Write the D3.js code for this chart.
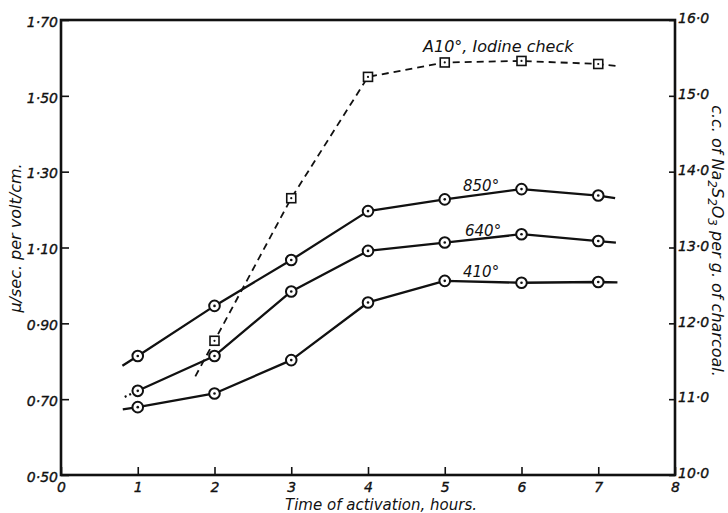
<!DOCTYPE html>
<html>
<head>
<meta charset="utf-8">
<script src="https://cdn.jsdelivr.net/npm/d3@7/dist/d3.min.js"></script>
<style>
  html, body { margin: 0; padding: 0; background: #fff; }
  text { font-family: "DejaVu Sans", sans-serif; font-style: italic; fill: #111; }
</style>
</head>
<body>
<script>
'use strict';

// activation time, hours
const hours = [1, 2, 3, 4, 5, 6, 7];
// mobility, mu/sec. per volt/cm, for each activation temperature
const mob850 = [0.814, 0.946, 1.067, 1.196, 1.227, 1.254, 1.237];
const mob640 = [0.722, 0.814, 0.984, 1.091, 1.113, 1.135, 1.117];
const mob410 = [0.679, 0.715, 0.803, 0.955, 1.012, 1.007, 1.009];
// iodine check at 410 deg, c.c. of Na2S2O3 per g. of charcoal
const iodineHours = [2, 3, 4, 5, 6, 7];
const iodine410 = [11.77, 13.65, 15.25, 15.44, 15.46, 15.42];

// short line ends drawn past the first and last points: [hours, value]
const lead850 = [[0.80, 0.788], [7.22, 1.230]];
const lead640 = [[0.83, 0.706], [7.23, 1.113]];
const lead410 = [[0.805, 0.673], [7.25, 1.008]];
const leadIodine = [[1.75, 11.30], [7.26, 15.39]];

const xTicks = [0, 1, 2, 3, 4, 5, 6, 7, 8];
const leftTicks = [0.5, 0.7, 0.9, 1.1, 1.3, 1.5, 1.7];
const rightTicks = [10, 11, 12, 13, 14, 15, 16];

(function() {

  let svgContainer = "";
  const measurements = {
    width: 728,
    height: 513,
    left: 61,
    right: 675,
    top: 20,
    bottom: 475
  };

  window.onload = function() {
    svgContainer = d3.select('body')
      .append('svg')
      .attr('width', measurements.width)
      .attr('height', measurements.height);

    let map = drawAxes();
    plotData(map);
    makeLabels();
  };

  // scales, frame and the three axes
  function drawAxes() {
    let xScale = d3.scaleLinear()
      .domain([0, 8])
      .range([measurements.left, measurements.right]);
    let yScale = d3.scaleLinear()
      .domain([0.5, 1.7])
      .range([measurements.bottom, measurements.top]);
    let rScale = d3.scaleLinear()
      .domain([10, 16])
      .range([measurements.bottom, measurements.top]);

    const dot = (s) => s.replace('.', '·');

    let xAxis = d3.axisBottom(xScale)
      .tickValues(xTicks)
      .tickSize(-8)
      .tickPadding(7)
      .tickFormat((d) => d3.format('d')(d));
    let gx = svgContainer.append('g')
      .attr('transform', 'translate(0,' + measurements.bottom + ')')
      .call(xAxis);

    let yAxis = d3.axisLeft(yScale)
      .tickValues(leftTicks)
      .tickSize(-8)
      .tickPadding(3)
      .tickFormat((d) => dot(d3.format('.2f')(d)));
    let gy = svgContainer.append('g')
      .attr('transform', 'translate(' + measurements.left + ',0)')
      .call(yAxis);

    let rAxis = d3.axisRight(rScale)
      .tickValues(rightTicks)
      .tickSize(-6)
      .tickPadding(3)
      .tickFormat((d) => dot(d3.format('.1f')(d)));
    let gr = svgContainer.append('g')
      .attr('transform', 'translate(' + measurements.right + ',0)')
      .call(rAxis);

    [gx, gy, gr].forEach((g) => {
      g.select('.domain').remove();
      g.selectAll('line').attr('stroke', '#111').attr('stroke-width', 1.6);
      g.selectAll('text')
        .attr('fill', '#111')
        .attr('stroke', '#111')
        .attr('stroke-width', 0.35)
        .style('font-family', '"DejaVu Sans", sans-serif')
        .style('font-style', 'italic')
        .style('font-size', '14px');
    });
    gy.selectAll('text').attr('dy', '0.45em');
    gr.selectAll('text').attr('dy', '0.2em');

    // plot frame
    svgContainer.append('rect')
      .attr('x', measurements.left)
      .attr('y', measurements.top)
      .attr('width', measurements.right - measurements.left)
      .attr('height', measurements.bottom - measurements.top)
      .attr('fill', 'none')
      .attr('stroke', '#111')
      .attr('stroke-width', 2.6);

    return { x: xScale, y: yScale, r: rScale };
  }

  function plotData(map) {
    let line = d3.line()
      .x((d) => map.x(d[0]))
      .y((d) => d[2] === 'r' ? map.r(d[1]) : map.y(d[1]));

    const series = [
      { values: mob850, lead: lead850, startDash: null },
      { values: mob640, lead: lead640, startDash: '2,3' },
      { values: mob410, lead: lead410, startDash: null }
    ];

    series.forEach((s) => {
      let pts = hours.map((h, i) => [h, s.values[i]]);
      let full = [s.lead[0]].concat(pts, [s.lead[1]]);
      if (s.startDash) {
        svgContainer.append('path')
          .attr('d', line([s.lead[0], pts[0]]))
          .attr('fill', 'none')
          .attr('stroke', '#111')
          .attr('stroke-width', 2.2)
          .attr('stroke-dasharray', s.startDash);
        full = full.slice(1);
      }
      svgContainer.append('path')
        .attr('d', line(full))
        .attr('fill', 'none')
        .attr('stroke', '#111')
        .attr('stroke-width', 2.3)
        .attr('stroke-linejoin', 'round');

      let g = svgContainer.append('g');
      g.selectAll('circle.mark')
        .data(pts)
        .enter()
        .append('circle')
        .attr('cx', (d) => map.x(d[0]))
        .attr('cy', (d) => map.y(d[1]))
        .attr('r', 5.3)
        .attr('fill', '#fff')
        .attr('stroke', '#111')
        .attr('stroke-width', 2);
      g.selectAll('circle.centre')
        .data(pts)
        .enter()
        .append('circle')
        .attr('cx', (d) => map.x(d[0]))
        .attr('cy', (d) => map.y(d[1]))
        .attr('r', 1.3)
        .attr('fill', '#111');
    });

    // iodine check, dashed line with squares, on right hand scale
    let ipts = iodineHours.map((h, i) => [h, iodine410[i], 'r']);
    let ifull = [leadIodine[0].concat('r')].concat(ipts, [leadIodine[1].concat('r')]);
    svgContainer.append('path')
      .attr('d', line(ifull))
      .attr('fill', 'none')
      .attr('stroke', '#111')
      .attr('stroke-width', 1.8)
      .attr('stroke-dasharray', '7,5');

    let sq = 9;
    let gs = svgContainer.append('g');
    gs.selectAll('rect')
      .data(ipts)
      .enter()
      .append('rect')
      .attr('x', (d) => map.x(d[0]) - sq / 2)
      .attr('y', (d) => map.r(d[1]) - sq / 2)
      .attr('width', sq)
      .attr('height', sq)
      .attr('fill', '#fff')
      .attr('stroke', '#111')
      .attr('stroke-width', 1.6);
    gs.selectAll('circle')
      .data(ipts)
      .enter()
      .append('circle')
      .attr('cx', (d) => map.x(d[0]))
      .attr('cy', (d) => map.r(d[1]))
      .attr('r', 1.1)
      .attr('fill', '#111');
  }

  function makeLabels() {
    svgContainer.append('text')
      .attr('x', 423)
      .attr('y', 52)
      .style('font-size', '16px')
      .text('A10°, Iodine check');

    svgContainer.append('text')
      .attr('x', 463).attr('y', 191)
      .style('font-size', '15px')
      .text('850°');
    svgContainer.append('text')
      .attr('x', 465).attr('y', 236)
      .style('font-size', '15px')
      .text('640°');
    svgContainer.append('text')
      .attr('x', 463).attr('y', 277)
      .style('font-size', '15px')
      .text('410°');

    svgContainer.append('text')
      .attr('x', 381)
      .attr('y', 510)
      .attr('text-anchor', 'middle')
      .style('font-size', '15px')
      .text('Time of activation, hours.');

    svgContainer.append('text')
      .attr('transform', 'translate(21, 238)rotate(-90)')
      .attr('text-anchor', 'middle')
      .style('font-size', '16px')
      .text('μ/sec. per volt/cm.');

    let rt = svgContainer.append('text')
      .attr('transform', 'translate(712, 241)rotate(90)')
      .attr('text-anchor', 'middle')
      .style('font-size', '16px');
    rt.append('tspan').text('c.c. of Na');
    rt.append('tspan').attr('dy', 4).style('font-size', '12px').text('2');
    rt.append('tspan').attr('dy', -4).text('S');
    rt.append('tspan').attr('dy', 4).style('font-size', '12px').text('2');
    rt.append('tspan').attr('dy', -4).text('O');
    rt.append('tspan').attr('dy', 4).style('font-size', '12px').text('3');
    rt.append('tspan').attr('dy', -4).text(' per g. of charcoal.');
  }

})();
</script>
</body>
</html>
